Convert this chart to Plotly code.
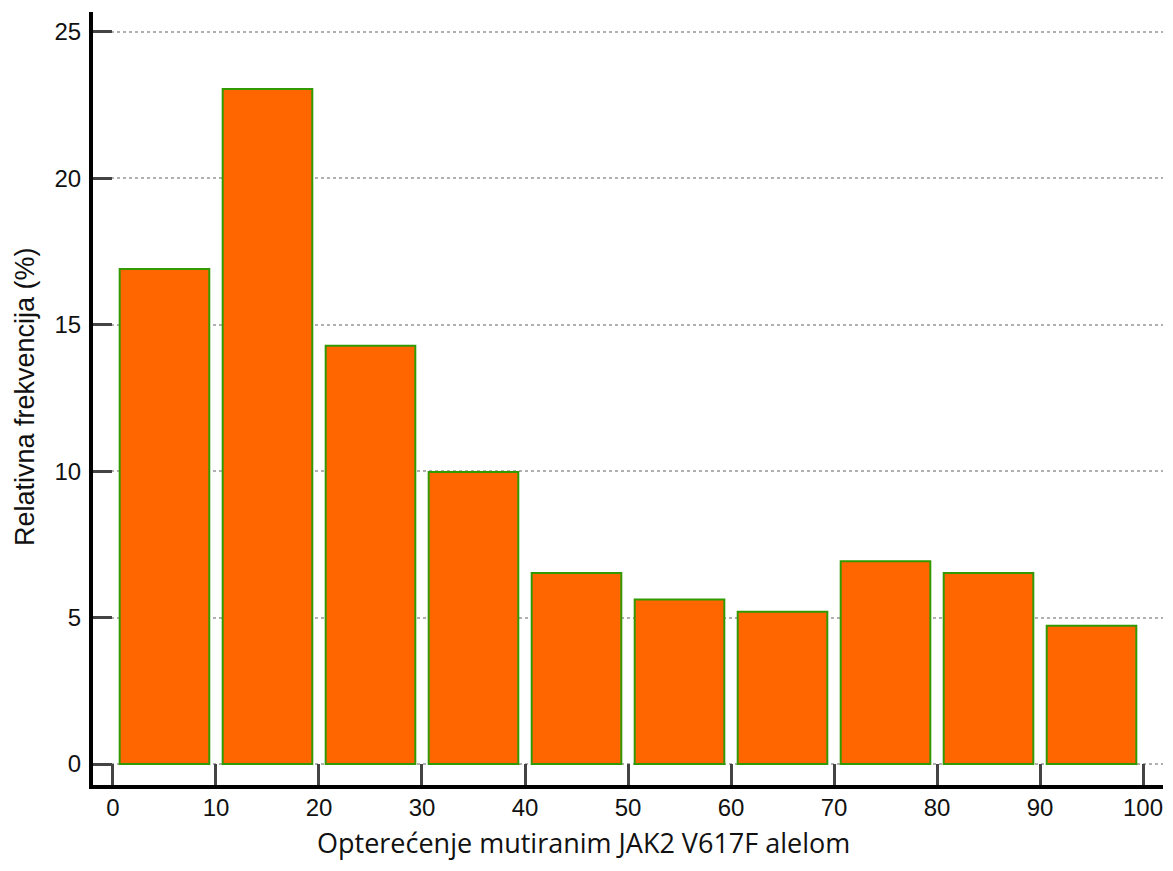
import plotly.graph_objects as go

bin_left = [0, 10, 20, 30, 40, 50, 60, 70, 80, 90]
freq = [16.9, 23.05, 14.28, 9.97, 6.52, 5.62, 5.2, 6.92, 6.52, 4.72]
x_ticks = [0, 10, 20, 30, 40, 50, 60, 70, 80, 90, 100]
y_ticks = [0, 5, 10, 15, 20, 25]
x_title = "Opterećenje mutiranim JAK2 V617F alelom"
y_title = "Relativna frekvencija (%)"

centers = [b + 5 for b in bin_left]

fig = go.Figure()
fig.add_trace(go.Bar(
    x=centers, y=freq, width=8.7,
    marker=dict(color="#FF6600", line=dict(color="#339900", width=2)),
    hoverinfo="skip",
))

tick_font = dict(family="Liberation Sans, Arial", size=24, color="#111")

W, H = 1165, 863
L, R, T, B = 85, 10, 4, 86
pw, ph = W - L - R, H - T - B

fig.update_layout(
    width=W, height=H,
    margin=dict(l=L, r=R, t=T, b=B),
    plot_bgcolor="white", paper_bgcolor="white",
    showlegend=False,
    xaxis=dict(
        range=[-1.94, 101.94], tickvals=x_ticks, ticktext=[str(v) for v in x_ticks],
        ticks="inside", ticklen=21, tickwidth=3, tickcolor="#444",
        showline=True, linecolor="black", linewidth=4,
        showgrid=False, zeroline=False, tickfont=tick_font,
        ticklabelstandoff=-2,
    ),
    yaxis=dict(
        range=[-0.717, 25.68], tickvals=y_ticks, ticktext=[str(v) for v in y_ticks],
        ticks="inside", ticklen=19, tickwidth=3, tickcolor="#444",
        showline=True, linecolor="black", linewidth=4,
        showgrid=True, gridcolor="#b0b0b0", griddash="dot", gridwidth=1.5,
        zeroline=False, tickfont=tick_font,
        ticklabelstandoff=3,
    ),
    annotations=[
        dict(text=x_title, xref="paper", yref="paper",
             x=(575 - L) / pw, y=-(834 - (T + ph)) / ph,
             xanchor="center", yanchor="middle", showarrow=False,
             font=dict(family="Open Sans", size=27, color="#111")),
        dict(text=y_title, xref="paper", yref="paper",
             x=-(L - 17) / pw, y=((T + ph) - 389) / ph, textangle=-90,
             xanchor="center", yanchor="middle", showarrow=False,
             font=dict(family="Liberation Sans, Arial", size=27, color="#111")),
    ],
)

fig.write_html("out.html")
